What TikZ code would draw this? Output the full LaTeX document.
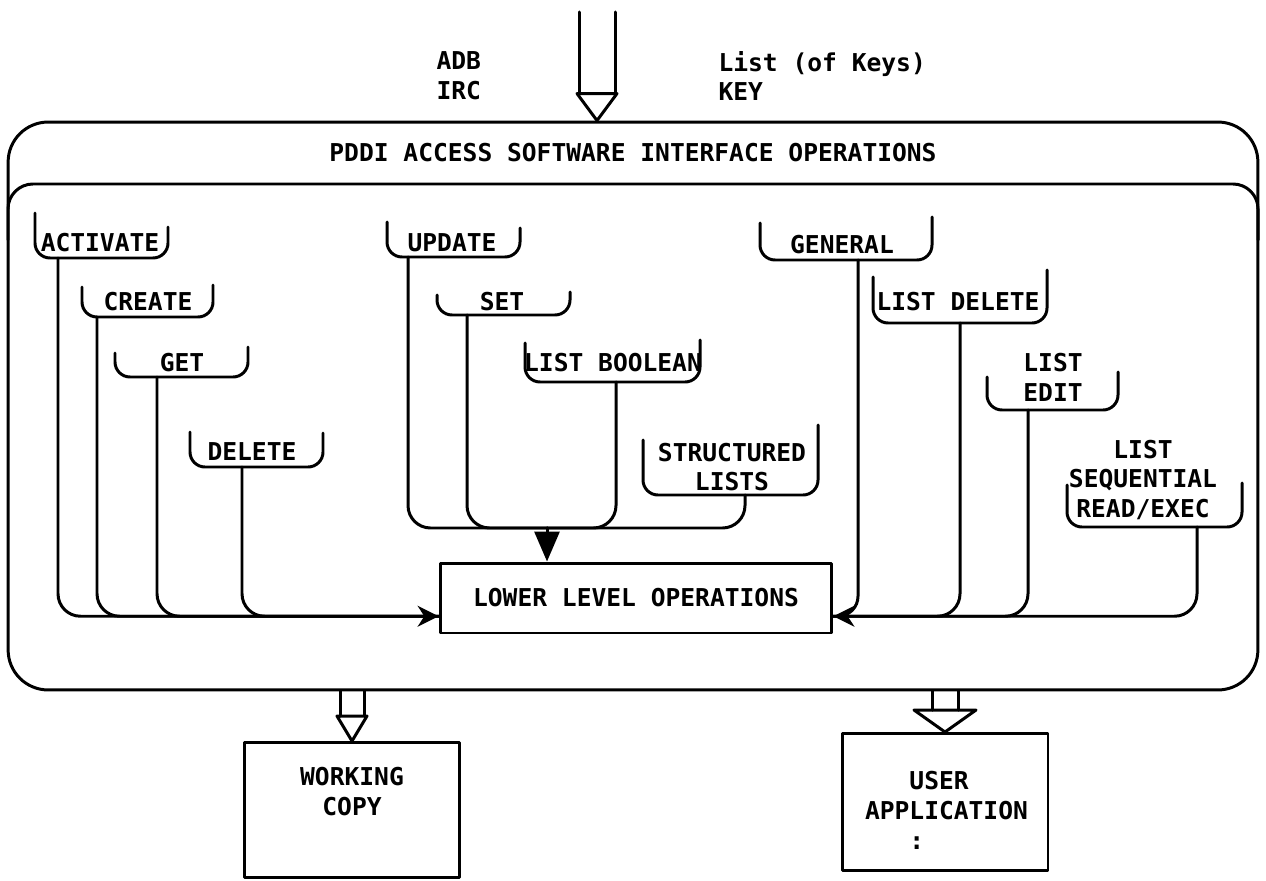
\documentclass[tikz,border=0pt]{standalone}
\usepackage{fontspec}
\usepackage{tikz}
\setmonofont{DejaVu Sans Mono}
\usetikzlibrary{positioning}
\usetikzlibrary{calc}
\usetikzlibrary{arrows.meta}

\tikzset{
  lbl/.style={font=\ttfamily\bfseries\fontsize{14}{17}\selectfont,inner sep=0pt,align=center},
  box/.style={draw,lbl},
  tray/.style={rounded corners=0.3cm},
  stem/.style={rounded corners=0.45cm},
}

% open block arrow: shaft top, tip, shaft half width, head half width, head length
\newcommand{\hollowarrow}[5]{%
  \draw ($(#1)+(-#3,0)$) -- ($(#2)+(-#3,-#5)$);
  \draw ($(#1)+(#3,0)$) -- ($(#2)+(#3,-#5)$);
  \draw ($(#2)+(-#4,-#5)$) -- ($(#2)+(#4,-#5)$) -- (#2) -- cycle;
}

\begin{document}
\begin{tikzpicture}[x=0.02cm,y=-0.02cm,line width=1.7pt,line cap=round,line join=round]
  \useasboundingbox (0,0) rectangle (1266,881);

  % frame
  \node [draw,rounded corners=0.8cm,minimum width=25cm,minimum height=11.36cm] (frame) at (633,406) {};
  \draw [rounded corners=0.5cm] (8,240) |- (633,184) -| (1258,240);
  \node [lbl] (title) at (633,153) {PDDI ACCESS SOFTWARE INTERFACE OPERATIONS};

  % input
  \node [lbl,anchor=west,align=left] (ids)  at (435,76) {ADB\\IRC};
  \node [lbl,anchor=west,align=left] (keys) at (717,76) {List (of Keys)\\KEY};
  \coordinate (feed) at (597,12);
  \coordinate (feedtip) at (feed |- frame.north);
  \hollowarrow{feed}{feedtip}{18}{20}{27}

  % operation groups
  \draw [tray] (35,213) |- (100,258) -| (168,227);
  \node [lbl] (activate) at (100,243) {ACTIVATE};
  \draw [tray] (82,287) |- (148,317) -| (213,285);
  \node [lbl] (create) at (148,302) {CREATE};
  \draw [tray] (115,353) |- (182,377) -| (248,347);
  \node [lbl] (get) at (182,363) {GET};
  \draw [tray] (190,432) |- (252,467) -| (323,433);
  \node [lbl] (delete) at (252,452) {DELETE};

  \draw [tray] (387,222) |- (452,257) -| (520,228);
  \node [lbl] (update) at (452,243) {UPDATE};
  \draw [tray] (437,295) |- (502,315) -| (570,292);
  \node [lbl] (set) at (502,302) {SET};
  \draw [tray] (525,343) |- (613,382) -| (700,340);
  \node [lbl] (boolean) at (613,363) {LIST BOOLEAN};
  \draw [tray] (643,440) |- (732,495) -| (818,425);
  \node [lbl] (structured) at (732,467) {STRUCTURED\\LISTS};

  \draw [tray] (760,223) |- (842,260) -| (932,217);
  \node [lbl] (general) at (842,245) {GENERAL};
  \draw [tray] (873,277) |- (958,323) -| (1047,270);
  \node [lbl] (listdel) at (958,302) {LIST DELETE};
  \draw [tray] (987,377) |- (1053,410) -| (1118,372);
  \node [lbl] (listedit) at (1053,377) {LIST\\EDIT};
  \draw [tray] (1067,485) |- (1143,527) -| (1242,483);
  \node [lbl] (seqread) at (1143,480) {LIST\\SEQUENTIAL\\READ/EXEC};

  \coordinate (activate-s)   at (58,258);
  \coordinate (create-s)     at (97,317);
  \coordinate (get-s)        at (157,377);
  \coordinate (delete-s)     at (242,467);
  \coordinate (update-s)     at (408,257);
  \coordinate (set-s)        at (467,315);
  \coordinate (boolean-s)    at (616,382);
  \coordinate (structured-s) at (745,495);
  \coordinate (general-s)    at (858,260);
  \coordinate (listdel-s)    at (960,323);
  \coordinate (listedit-s)   at (1028,410);
  \coordinate (seqread-s)    at (1197,527);

  % lower level
  \node [box,minimum width=7.84cm,minimum height=1.4cm] (lower) at (636,598) {LOWER LEVEL OPERATIONS};
  \coordinate (lowin)  at ($(lower.south west)!0.25!(lower.north west)$);
  \coordinate (lowout) at ($(lower.south east)!0.25!(lower.north east)$);
  \coordinate (join)   at (547,528);

  \draw [stem,-{Stealth[length=0.42cm,width=0.42cm]}] (activate-s) |- (lowin);
  \draw [stem] (create-s) |- (lowin);
  \draw [stem] (get-s) |- (lowin);
  \draw [stem] (delete-s) |- (lowin);

  \draw [stem] (update-s) |- (join);
  \draw [stem] (set-s) |- (join);
  \draw [stem] (boolean-s) |- (join);
  \draw [stem] (structured-s) |- (join);
  \draw [-{Triangle[length=0.6cm,width=0.5cm]}] (join) -- (join |- lower.north);

  \draw [stem,-{Stealth[length=0.42cm,width=0.42cm]}] (seqread-s) |- (lowout);
  \draw [stem] (listedit-s) |- (lowout);
  \draw [stem] (listdel-s) |- (lowout);
  \draw [stem,rounded corners=0.4cm] (general-s) |- (lowout);

  % outputs
  \node [draw,minimum width=4.3cm,minimum height=2.7cm] (wcopy) at (352,810) {};
  \node [lbl,below=0.5cm of wcopy.north] (wcopy-t) {WORKING\\COPY};
  \node [draw,minimum width=4.12cm,minimum height=2.74cm] (uapp) at (945,802) {};
  \node [lbl,align=left,anchor=north west] (uapp-t) at ([xshift=0.46cm,yshift=-0.76cm]uapp.north west) {\hphantom{APP}USER\\APPLICATION\\\hphantom{APP}:};

  \coordinate (wfeed) at (wcopy.north |- frame.south);
  \hollowarrow{wfeed}{wcopy.north}{12}{15}{25}
  \coordinate (ufeed) at (uapp.north |- frame.south);
  \hollowarrow{ufeed}{uapp.north}{13}{31}{22}
\end{tikzpicture}
\end{document}
